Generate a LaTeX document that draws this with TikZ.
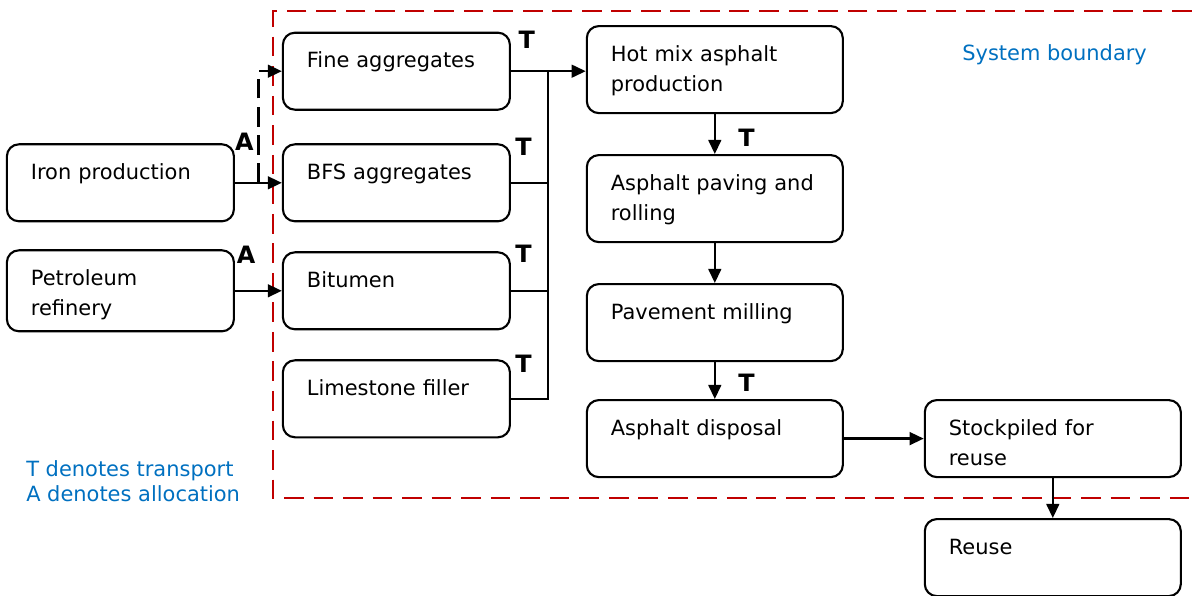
\documentclass[tikz,border=0pt]{standalone}
\usepackage{fontspec}
\setmainfont{DejaVu Sans}
\usepackage{xcolor}
\usepackage{tikz}
\usetikzlibrary{arrows.meta, positioning, calc}
\definecolor{boundred}{HTML}{C00000}
\definecolor{noteblue}{HTML}{0070C0}
\tikzstyle{box} = [rectangle, rounded corners=0.3cm, draw=black, line width=1.5pt, align=left, text width=4.475cm, inner xsep=0.6cm, inner ysep=0pt, text height=0.875cm, text depth=1.05cm, font=\fontsize{14.9pt}{21.3pt}\selectfont]
\tikzstyle{tallbox} = [box, text width=5.2cm, text depth=1.3cm]
\tikzstyle{widebox} = [box, text width=5.2cm]
\tikzstyle{line} = [draw, -{Triangle[length=10pt, width=9pt]}, line width=1.7pt]
\tikzstyle{wire} = [draw, line width=1.7pt]
\tikzstyle{alloc} = [line, dash pattern=on 14pt off 6pt]
\tikzstyle{boundary} = [draw=boundred, line width=1.5pt, dash pattern=on 14pt off 7pt]
\tikzstyle{tag} = [inner sep=0pt, font=\fontsize{17pt}{17pt}\bfseries\selectfont]
\tikzstyle{note} = [inner sep=0pt, text=noteblue, font=\fontsize{14.9pt}{17.8pt}\selectfont]

\begin{document}
\begin{tikzpicture}[node distance = 2.7cm]
    \useasboundingbox (0,0) rectangle (29.8,-14.9);
    % Boundary
    \draw [boundary] (29.8,-0.275) -- (6.825,-0.275) -- (6.825,-12.45) -- (29.8,-12.45);

    % Nodes
    \node [box] (fine) at (9.91,-1.78) {Fine aggregates};
    \node [box, below of=fine, node distance=2.79cm] (bfs) {BFS aggregates};
    \node [box, below of=bfs] (bit) {Bitumen};
    \node [box, below of=bit] (lime) {Limestone filler};
    \node [box, left of=bfs, node distance=6.9cm] (iron) {Iron production};
    \node [box, left of=bit, node distance=6.9cm, text depth=1.15cm] (pet) {Petroleum\\refinery};
    \node [tallbox, right of=fine, node distance=7.96cm, yshift=0.04cm] (hma) {Hot mix asphalt\\production};
    \node [tallbox, below of=hma, node distance=3.225cm] (pave) {Asphalt paving and\\rolling};
    \node [widebox, below of=pave, node distance=3.1cm] (mill) {Pavement milling};
    \node [widebox, below of=mill, node distance=2.9cm] (disp) {Asphalt disposal};
    \node [widebox, right of=disp, node distance=8.45cm] (stock) {Stockpiled for\\reuse};
    \node [widebox, below of=stock, node distance=2.975cm] (reuse) {Reuse};
    \coordinate [right of=fine, node distance=3.79cm] (bus);

    \node [note, anchor=base west] (sysb) at (24.05,-1.525) {System boundary};
    \node [note, anchor=base west, align=left] (legend) at (0.65,-12.535) {T denotes transport\\A denotes allocation};

    % Edges
    \path [line] (fine.east) -- node [tag, pos=0.21, above=0.55cm] {T} (fine.east -| hma.west);
    \path [wire] (bfs.east) -- node [tag, pos=0.34, above=0.65cm] {T} (bfs.east -| bus);
    \path [wire] (bit.east) -- node [tag, pos=0.34, above=0.67cm] {T} (bit.east -| bus);
    \path [wire] (lime.east) -- node [tag, pos=0.34, above=0.63cm] {T} (lime.east -| bus) -- (bus);
    \path [line] (iron) -- node [tag, pos=0.2, above=0.78cm] {A} (bfs);
    \path [alloc] ($(iron.east)!0.5!(bfs.west)$) |- (fine.west);
    \path [line] (pet) -- node [tag, pos=0.24, above=0.65cm] {A} (bit);
    \path [line] (hma) -- node [tag, pos=0.6, right=0.56cm] {T} (pave);
    \path [line] (pave) -- (mill);
    \path [line] (mill) -- node [tag, pos=0.56, right=0.56cm] {T} (disp);
    \path [line] (disp) -- (stock);
    \path [line] (stock) -- (reuse);
\end{tikzpicture}
\end{document}
